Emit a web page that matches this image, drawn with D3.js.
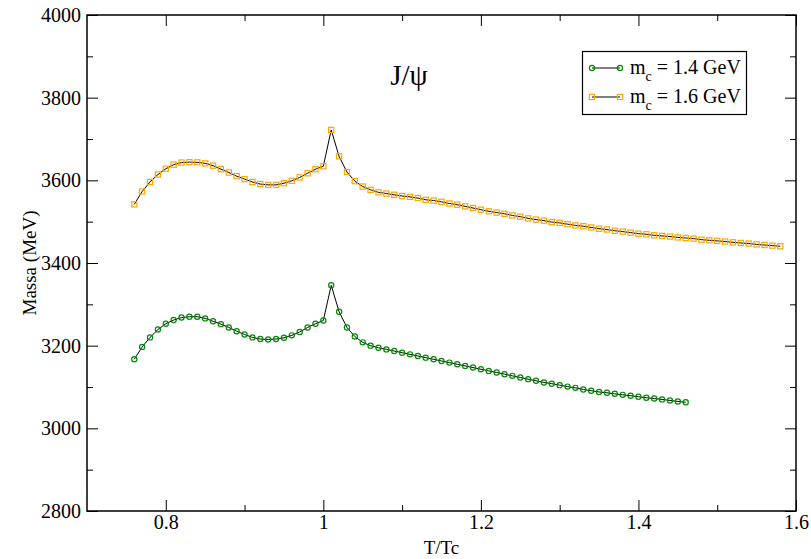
<!DOCTYPE html>
<html>
<head>
<meta charset="utf-8">
<title>J/psi</title>
<script src="https://cdnjs.cloudflare.com/ajax/libs/d3/7.8.5/d3.min.js"></script>
<style>
body { margin: 0; background: #fff; }
text { font-family: "Liberation Serif", "DejaVu Serif", serif; fill: #000; }
.frame { fill: none; stroke: #000; stroke-width: 1.5; }
.tick line { stroke: #000; }
.curve { fill: none; stroke: #000; stroke-width: 1; }
</style>
</head>
<body>
<svg width="811" height="559"></svg>
<script>
// temperaturas (T/Tc) e massas (MeV)
var tGreen = [0.76,0.77,0.78,0.79,0.80,0.81,0.82,0.83,0.84,0.85,0.86,0.87,0.88,0.89,0.90,0.91,0.92,0.93,0.94,0.95,
  0.96,0.97,0.98,0.99,1.00,1.01,1.02,1.03,1.04,1.05,1.06,1.07,1.08,1.09,1.10,1.11,1.12,1.13,1.14,1.15,
  1.16,1.17,1.18,1.19,1.20,1.21,1.22,1.23,1.24,1.25,1.26,1.27,1.28,1.29,1.30,1.31,1.32,1.33,1.34,1.35,
  1.36,1.37,1.38,1.39,1.40,1.41,1.42,1.43,1.44,1.45,1.46];
var mGreen = [3167,3197,3220,3239,3253,3262,3268,3270,3270,3266,3259,3252,3244,3235,3227,3220,3216,3215,3216,3219,
  3225,3233,3244,3253,3261,3346,3282,3244,3222,3208,3200,3195,3191,3187,3183,3179,3175,3171,3167,3163,
  3159,3155,3151,3147,3143,3139,3135,3131,3127,3123,3119,3115,3111,3108,3104.5,3101,3098,3094,3091,3088,
  3086,3083.5,3081,3079,3076.5,3074,3072,3070,3067.5,3065,3063];

var tOrange = [0.76,0.77,0.78,0.79,0.80,0.81,0.82,0.83,0.84,0.85,0.86,0.87,0.88,0.89,0.90,0.91,0.92,0.93,0.94,0.95,
  0.96,0.97,0.98,0.99,1.00,1.01,1.02,1.03,1.04,1.05,1.06,1.07,1.08,1.09,1.10,1.11,1.12,1.13,1.14,1.15,
  1.16,1.17,1.18,1.19,1.20,1.21,1.22,1.23,1.24,1.25,1.26,1.27,1.28,1.29,1.30,1.31,1.32,1.33,1.34,1.35,
  1.36,1.37,1.38,1.39,1.40,1.41,1.42,1.43,1.44,1.45,1.46,1.47,1.48,1.49,1.50,1.51,1.52,1.53,1.54,1.55,
  1.56,1.57,1.58];
var mOrange = [3542,3573,3596,3614,3628,3638,3643,3644,3643.5,3641,3635.5,3627,3619,3610,3603,3596,3591,3589,3589,3593,
  3599,3607,3617,3627,3634,3722,3658,3620,3598,3585,3577,3571,3568,3565,3562,3560,3557,3553,3551,3548,
  3544,3541,3537,3533,3529,3525,3522,3519,3515,3512,3508,3505,3502.5,3499,3497,3494,3491,3489,3486,3483,
  3481,3478,3476,3473.5,3471,3469.5,3467,3465.5,3464,3462,3460.5,3459,3456.5,3455,3453.5,3452,3450,3448.5,3447,3445,
  3443.5,3442,3440.5];

var xTicks = [0.8, 1, 1.2, 1.4, 1.6];
var xMinor = [0.9, 1.1, 1.3, 1.5];
var yTicks = [2800, 3000, 3200, 3400, 3600, 3800, 4000];
var yMinor = [2900, 3100, 3300, 3500, 3700, 3900];

var svg = d3.select("svg");
var pL = 87, pR = 796, pT = 15, pB = 511;

var x = d3.scaleLinear().domain([0.7, 1.6]).range([pL, pR]);
var y = d3.scaleLinear().domain([2800, 4000]).range([pB, pT]);

// ticks (major + minor), para dentro, nos quatro lados
svg.append("g").attr("transform", "translate(0," + pB + ")")
  .call(d3.axisBottom(x).tickValues(xMinor).tickSize(-6).tickSizeOuter(0).tickFormat(""));
svg.append("g").attr("transform", "translate(0," + pB + ")")
  .call(d3.axisBottom(x).tickValues(xTicks).tickSize(-11).tickSizeOuter(0).tickPadding(4)
    .tickFormat(d3.format("")))
  .selectAll("text").style("font-size", "20px");
svg.append("g").attr("transform", "translate(0," + pT + ")")
  .call(d3.axisTop(x).tickValues(xMinor).tickSize(-6).tickSizeOuter(0).tickFormat(""));
svg.append("g").attr("transform", "translate(0," + pT + ")")
  .call(d3.axisTop(x).tickValues(xTicks).tickSize(-11).tickSizeOuter(0).tickFormat(""));

svg.append("g").attr("transform", "translate(" + pL + ",0)")
  .call(d3.axisLeft(y).tickValues(yMinor).tickSize(-6).tickSizeOuter(0).tickFormat(""));
svg.append("g").attr("transform", "translate(" + pL + ",0)")
  .call(d3.axisLeft(y).tickValues(yTicks).tickSize(-11).tickSizeOuter(0).tickPadding(6)
    .tickFormat(d3.format("")))
  .selectAll("text").style("font-size", "20px");
svg.append("g").attr("transform", "translate(" + pR + ",0)")
  .call(d3.axisRight(y).tickValues(yMinor).tickSize(-6).tickSizeOuter(0).tickFormat(""));
svg.append("g").attr("transform", "translate(" + pR + ",0)")
  .call(d3.axisRight(y).tickValues(yTicks).tickSize(-11).tickSizeOuter(0).tickFormat(""));
svg.selectAll(".domain").remove();

svg.append("rect").attr("class", "frame")
  .attr("x", pL).attr("y", pT)
  .attr("width", pR - pL).attr("height", pB - pT);

// rotulos dos eixos
svg.append("text")
  .attr("x", (pL + pR) / 2).attr("y", 554)
  .attr("text-anchor", "middle").style("font-size", "19px")
  .text("T/Tc");
svg.append("text")
  .attr("transform", "translate(36," + ((pT + pB) / 2) + ") rotate(-90)")
  .attr("text-anchor", "middle").style("font-size", "19px")
  .text("Massa (MeV)");

svg.append("text")
  .attr("x", 409).attr("y", 85)
  .attr("text-anchor", "middle").style("font-size", "29px")
  .text("J/\u03C8");

var series = [
  { t: tGreen, m: mGreen, color: "#008b00", shape: "circle", label: "1.4 GeV" },
  { t: tOrange, m: mOrange, color: "#ffa500", shape: "square", label: "1.6 GeV" }
];

var line = d3.line()
  .x(function (d) { return x(d[0]); })
  .y(function (d) { return y(d[1]); });

function marker(g, shape, color, cx, cy) {
  if (shape === "circle") {
    g.append("circle").attr("cx", cx).attr("cy", cy).attr("r", 2.6)
      .attr("fill", "none").attr("stroke", color).attr("stroke-width", 1.2);
  } else {
    g.append("rect").attr("x", cx - 2.6).attr("y", cy - 2.6)
      .attr("width", 5.2).attr("height", 5.2)
      .attr("fill", "none").attr("stroke", color).attr("stroke-width", 1.2);
  }
}

series.forEach(function (s) {
  var pts = s.t.map(function (t, i) { return [t, s.m[i]]; });
  svg.append("path").attr("class", "curve").attr("d", line(pts));
  var g = svg.append("g");
  pts.forEach(function (p) { marker(g, s.shape, s.color, x(p[0]), y(p[1])); });
});

// legenda
var lg = svg.append("g");
lg.append("rect").attr("x", 582.5).attr("y", 51.5).attr("width", 164).attr("height", 63)
  .attr("fill", "#fff").attr("stroke", "#000").attr("stroke-width", 1.2);
series.forEach(function (s, i) {
  var ly = 70 + i * 29;
  lg.append("line").attr("x1", 592).attr("x2", 620).attr("y1", ly - 2).attr("y2", ly - 2)
    .attr("stroke", "#000");
  marker(lg, s.shape, s.color, 592, ly - 2);
  marker(lg, s.shape, s.color, 620, ly - 2);
  var t = lg.append("text").attr("x", 630).attr("y", ly + 4).style("font-size", "20px");
  t.append("tspan").text("m");
  t.append("tspan").attr("dy", 7).style("font-size", "14px").text("c");
  t.append("tspan").attr("dy", -7).text(" = " + s.label);
});
</script>
</body>
</html>
